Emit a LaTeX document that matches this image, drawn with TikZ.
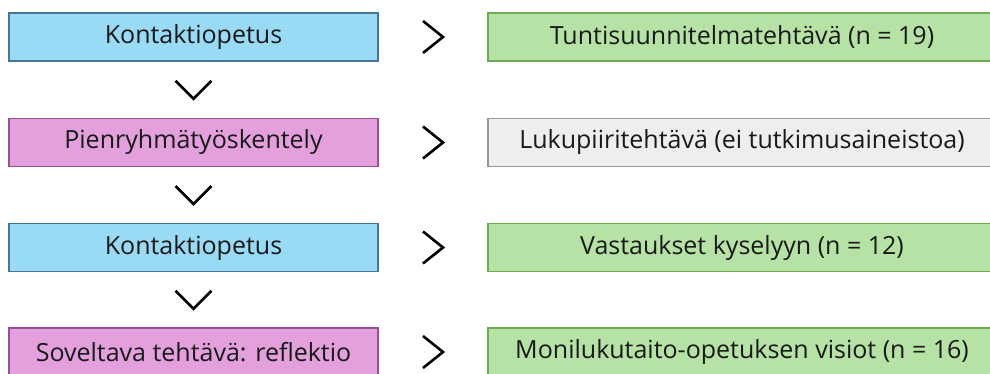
\documentclass[tikz,border=0pt]{standalone}
\usepackage{fontspec}
\setmainfont{Open Sans}
\usetikzlibrary{calc}
\definecolor{blueFill}{RGB}{153,218,245}
\definecolor{blueLine}{RGB}{72,118,150}
\definecolor{pinkFill}{RGB}{227,160,221}
\definecolor{pinkLine}{RGB}{150,80,150}
\definecolor{greenFill}{RGB}{182,227,165}
\definecolor{greenLine}{RGB}{110,170,80}
\definecolor{greyFill}{RGB}{238,238,238}
\definecolor{greyLine}{RGB}{150,150,150}
\definecolor{txt}{RGB}{25,25,25}
\tikzset{
  x=1pt, y=-1pt,
  box/.style={draw, line width=1.2pt, inner sep=0pt, minimum height=48pt,
    text=txt, font=\fontsize{25}{28}\selectfont},
  leftbox/.style={box, minimum width=369pt},
  rightbox/.style={box, minimum width=508pt},
  phase/.style={leftbox, fill=blueFill, draw=blueLine},
  group/.style={leftbox, fill=pinkFill, draw=pinkLine},
  data/.style={rightbox, fill=greenFill, draw=greenLine},
  nodata/.style={rightbox, fill=greyFill, draw=greyLine},
  chev/.style={line width=2.6pt, black}
}
\begin{document}
\begin{tikzpicture}
\useasboundingbox (0,0) rectangle (990,373);
\clip (0,0) rectangle (990,373);

% course phases on the left
\node[phase] (p1) at (193.5,37) {Kontaktiopetus};
\node[group] (p2) at (193.5,142.5) {Pienryhmätyöskentely};
\node[phase] (p3) at (193.5,247.5) {Kontaktiopetus};
\node[group] (p4) at (193.5,352) {Soveltava tehtävä: reflektio};

% tasks and collected material on the right
\node[data]   (t1) at (742,37) {Tuntisuunnitelmatehtävä (n = 19)};
\node[nodata] (t2) at (742,142.5) {Lukupiiritehtävä (ei tutkimusaineistoa)};
\node[data]   (t3) at (742,247.5) {Vastaukset kyselyyn (n = 12)};
\node[data]   (t4) at (742,352) {Monilukutaito-opetuksen visiot (n = 16)};

% right-pointing chevrons between each phase and its task
\foreach \i in {1,...,4}{
  \coordinate (m\i) at ($(p\i.east)!0.5!(t\i.west)$);
  \draw[chev] ($(m\i)+(-10,-16)$) -- ($(m\i)+(10,0)$) -- ($(m\i)+(-10,16)$);
}

% downward chevrons between consecutive phases
\foreach \a/\b in {1/2,2/3,3/4}{
  \coordinate (d\a) at ($(p\a.south)!0.5!(p\b.north)$);
  \draw[chev] ($(d\a)+(-18,-9)$) -- ($(d\a)+(0,9)$) -- ($(d\a)+(18,-9)$);
}
\end{tikzpicture}
\end{document}
